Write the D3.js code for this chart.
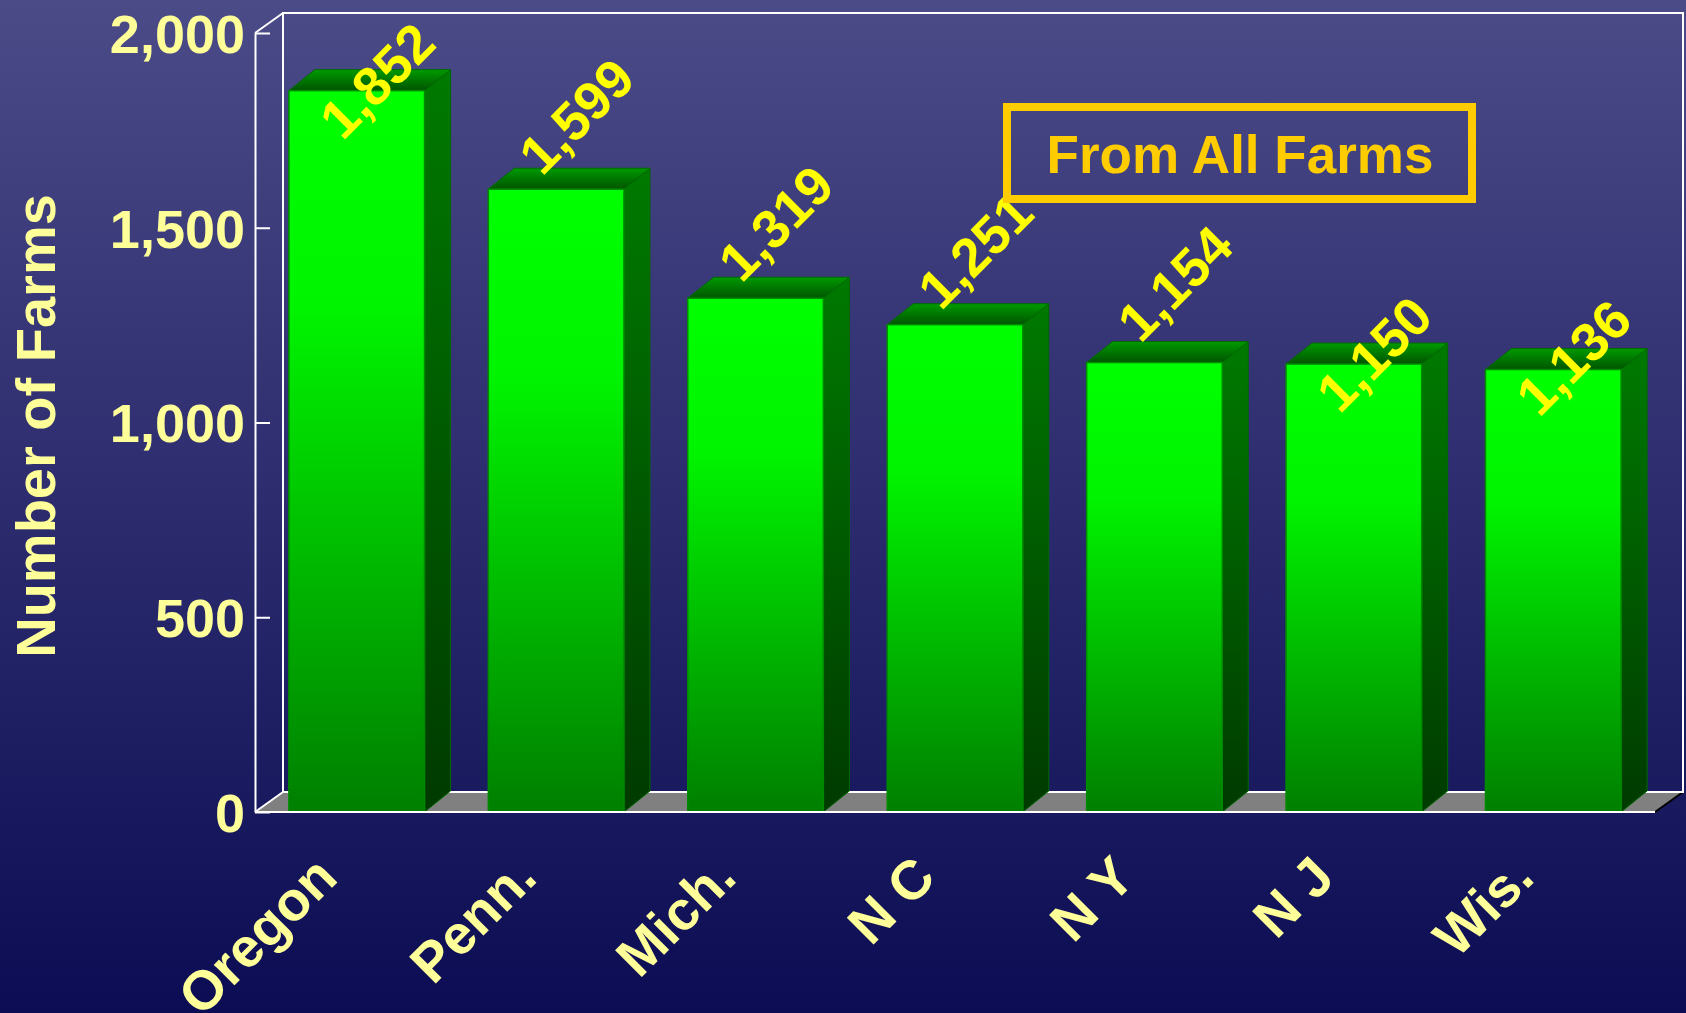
<!DOCTYPE html>
<html>
<head>
<meta charset="utf-8">
<script src="https://cdn.jsdelivr.net/npm/d3@7"></script>
<style>
  html, body { margin: 0; padding: 0; background: #0c0c54; }
  svg { display: block; }
  text { font-family: "Liberation Sans", Arial, sans-serif; font-weight: bold; }
</style>
</head>
<body>
<svg id="chart" width="1686" height="1013"></svg>
<script>
// ---- Data ----
const categories = ["Oregon", "Penn.", "Mich.", "N C", "N Y", "N J", "Wis."];
const farmCounts = [1852, 1599, 1319, 1251, 1154, 1150, 1136];
const yTicks = [0, 500, 1000, 1500, 2000];
const yTitle = "Number of Farms";
const boxLabel = "From All Farms";

// ---- Layout ----
const W = 1686, H = 1013;
const plotLeft = 255, plotRight = 1655, plotTop = 33, plotBottom = 812;
const wallDx = 28, wallDy = -20;   // back wall offset
const barDx = 26, barDy = -21;     // bar depth
// vertical lift (px) of each value label above its bar top, as placed in the original slide
const labelLift = [0, 63, 65, 64, 69, 0, 2];

const svg = d3.select("#chart");
const defs = svg.append("defs");

const bg = defs.append("linearGradient").attr("id", "bg").attr("x1", 0).attr("y1", 0).attr("x2", 0).attr("y2", 1);
bg.append("stop").attr("offset", "0%").attr("stop-color", "#4b4b88");
bg.append("stop").attr("offset", "100%").attr("stop-color", "#0c0c54");

const gFront = defs.append("linearGradient").attr("id", "gFront").attr("x1", 0).attr("y1", 0).attr("x2", 0).attr("y2", 1);
gFront.append("stop").attr("offset", "0%").attr("stop-color", "#00ff00");
gFront.append("stop").attr("offset", "30%").attr("stop-color", "#00f400");
gFront.append("stop").attr("offset", "100%").attr("stop-color", "#007f00");

const gSide = defs.append("linearGradient").attr("id", "gSide").attr("x1", 0).attr("y1", 0).attr("x2", 0).attr("y2", 1);
gSide.append("stop").attr("offset", "0%").attr("stop-color", "#007a00");
gSide.append("stop").attr("offset", "100%").attr("stop-color", "#003a00");

const gTop = defs.append("linearGradient").attr("id", "gTop").attr("x1", 0).attr("y1", 0).attr("x2", 0).attr("y2", 1);
gTop.append("stop").attr("offset", "0%").attr("stop-color", "#009a00");
gTop.append("stop").attr("offset", "100%").attr("stop-color", "#005400");

svg.append("rect").attr("width", W).attr("height", H).attr("fill", "url(#bg)");

// ---- Scales ----
const x = d3.scaleBand().domain(categories).range([plotLeft, plotRight])
  .paddingInner(0.32).paddingOuter(0.17);
const y = d3.scaleLinear().domain([0, 2000]).range([plotBottom, plotTop]);

// ---- Floor ----
svg.append("path")
  .attr("d", `M${plotLeft},${plotBottom} L${plotLeft + wallDx},${plotBottom + wallDy} L${plotRight + wallDx},${plotBottom + wallDy} L${plotRight},${plotBottom} Z`)
  .attr("fill", "#808080");
svg.append("line")
  .attr("x1", plotRight).attr("y1", plotBottom).attr("x2", plotRight + wallDx).attr("y2", plotBottom + wallDy)
  .attr("stroke", "#000000").attr("stroke-width", 2);

// ---- Back wall & side lines ----
svg.append("rect")
  .attr("x", plotLeft + wallDx).attr("y", plotTop + wallDy)
  .attr("width", plotRight - plotLeft).attr("height", plotBottom - plotTop)
  .attr("fill", "none").attr("stroke", "#ffffff").attr("stroke-width", 2);
svg.append("line").attr("x1", plotLeft).attr("y1", plotTop).attr("x2", plotLeft + wallDx).attr("y2", plotTop + wallDy)
  .attr("stroke", "#ffffff").attr("stroke-width", 2);
svg.append("line").attr("x1", plotLeft).attr("y1", plotBottom).attr("x2", plotLeft + wallDx).attr("y2", plotBottom + wallDy)
  .attr("stroke", "#ffffff").attr("stroke-width", 2);

// ---- Bars ----
const data = categories.map((c, i) => ({ cat: c, v: farmCounts[i], lift: labelLift[i] }));
const bw = x.bandwidth();
const bars = svg.append("g").selectAll("g").data(data).join("g");

bars.append("path") // side
  .attr("d", d => {
    const x1 = x(d.cat) + bw, yt = y(d.v), yb = y(0);
    return `M${x1},${yt} L${x1 + barDx},${yt + barDy} L${x1 + barDx},${yb + barDy} L${x1},${yb} Z`;
  })
  .attr("fill", "url(#gSide)").attr("stroke", "#006a00").attr("stroke-width", 1);

bars.append("path") // top
  .attr("d", d => {
    const x0 = x(d.cat), yt = y(d.v);
    return `M${x0},${yt} L${x0 + barDx},${yt + barDy} L${x0 + bw + barDx},${yt + barDy} L${x0 + bw},${yt} Z`;
  })
  .attr("fill", "url(#gTop)").attr("stroke", "#006a00").attr("stroke-width", 1);

bars.append("rect") // front
  .attr("x", d => x(d.cat)).attr("y", d => y(d.v))
  .attr("width", bw).attr("height", d => y(0) - y(d.v))
  .attr("fill", "url(#gFront)").attr("stroke", "#008a00").attr("stroke-width", 1.5);

// front baseline
svg.append("line").attr("x1", plotLeft).attr("y1", plotBottom).attr("x2", plotRight).attr("y2", plotBottom)
  .attr("stroke", "#ffffff").attr("stroke-width", 2);

// ---- Y axis ----
const yAxis = d3.axisLeft(y).tickValues(yTicks).tickFormat(d3.format(","))
  .tickSizeInner(-15).tickSizeOuter(0).tickPadding(10);
const ga = svg.append("g").attr("transform", `translate(${plotLeft},0)`).call(yAxis);
ga.select(".domain").attr("stroke", "#ffffff").attr("stroke-width", 2);
ga.selectAll(".tick line").attr("stroke", "#ffffff").attr("stroke-width", 2);
ga.selectAll(".tick text")
  .attr("fill", "#ffff99").attr("font-size", 54).attr("font-family", "Liberation Sans, Arial, sans-serif")
  .attr("font-weight", "bold").attr("dy", "0.36em");

// y title
svg.append("text")
  .attr("transform", "translate(55,426) rotate(-90)")
  .attr("text-anchor", "middle").attr("fill", "#ffff99").attr("font-size", 56)
  .text(yTitle);

// ---- Category labels ----
svg.append("g").selectAll("text").data(categories).join("text")
  .attr("transform", d => `translate(${x(d) + bw / 2 - 17},${plotBottom + 68}) rotate(-45)`)
  .attr("text-anchor", "end").attr("fill", "#ffff99").attr("font-size", 55)
  .text(d => d);

// ---- Value labels ----
svg.append("g").selectAll("text").data(data).join("text")
  .attr("transform", d => `translate(${x(d.cat) + bw / 2 + barDx / 2 + 7},${y(d.v) + barDy / 2 - d.lift}) rotate(-45)`)
  .attr("text-anchor", "middle").attr("dy", "0.36em")
  .attr("fill", "#ffff00").attr("font-size", 54)
  .text(d => d3.format(",")(d.v));

// ---- Annotation box ----
svg.append("rect")
  .attr("x", 1007).attr("y", 107).attr("width", 465).attr("height", 92)
  .attr("fill", "none").attr("stroke", "#ffcc00").attr("stroke-width", 8);
svg.append("text")
  .attr("x", 1240).attr("y", 173).attr("text-anchor", "middle")
  .attr("fill", "#ffcc00").attr("font-size", 53)
  .text(boxLabel);
</script>
</body>
</html>
